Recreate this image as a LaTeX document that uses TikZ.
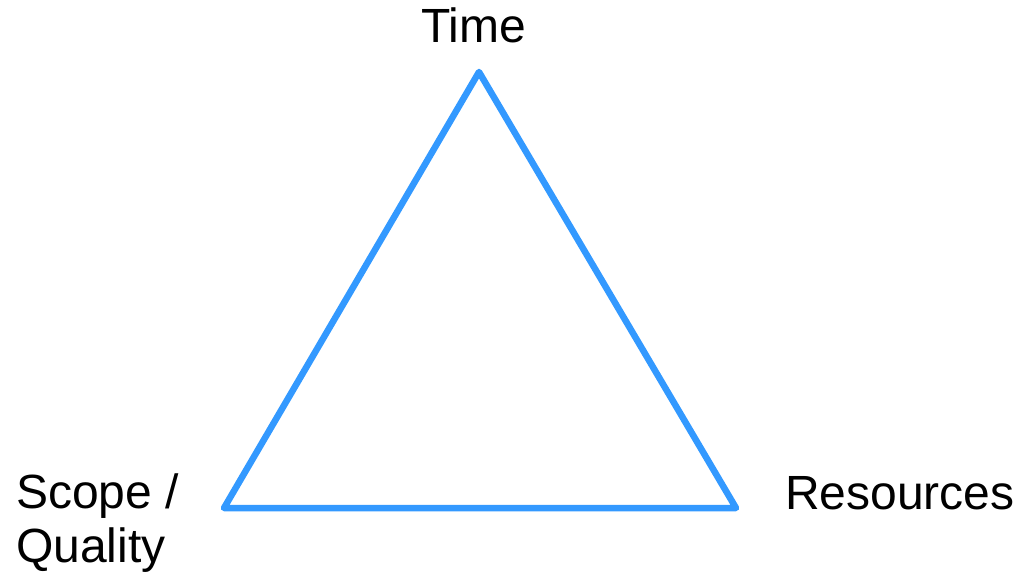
\documentclass[tikz,border=0pt]{standalone}
\usepackage{fontspec}
\setmainfont{Liberation Sans}
\definecolor{triblue}{HTML}{3399FF}
\begin{document}
\begin{tikzpicture}[x=1pt,y=1pt,
  lbl/.style={inner sep=0pt,font=\fontsize{48}{54}\selectfont},
  edge/.style={draw=triblue,line width=6.5pt,line join=round,line cap=round}]
\useasboundingbox (0,0) rectangle (1019,574);
\coordinate (T) at (479,502);
\coordinate (L) at (224,66);
\coordinate (R) at (736,66);
\draw[edge] (T) -- (R) -- (L) -- cycle;
\node[lbl,anchor=base] (time) at (473.5,531) {Time};
\node[lbl,anchor=base west] (res) at (785,65) {Resources};
\node[lbl,anchor=base west] (sq1) at (16,66) {Scope /};
\node[lbl,anchor=base west] (sq2) at (16,12) {Quality};
\end{tikzpicture}
\end{document}
